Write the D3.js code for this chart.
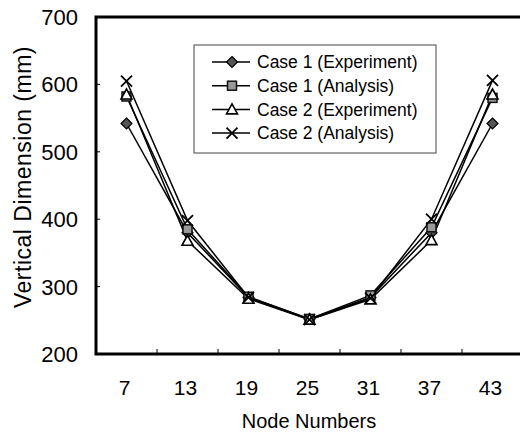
<!DOCTYPE html>
<html>
<head>
<meta charset="utf-8">
<script src="https://cdn.jsdelivr.net/npm/d3@7"></script>
<style>
body { margin: 0; background: #fff; }
svg { font-family: "Liberation Sans", Arial, sans-serif; }
</style>
</head>
<body>
<svg id="chart" width="520" height="434"></svg>
<script>
// node numbers along the cable
var nodes = [7, 13, 19, 25, 31, 37, 43];
var yTicks = [200, 300, 400, 500, 600, 700];
var seriesNames = ["Case 1 (Experiment)", "Case 1 (Analysis)", "Case 2 (Experiment)", "Case 2 (Analysis)"];
var case1Exp = [542, 380, 284, 252, 284, 380, 542];
var case1Ana = [582, 385, 285, 252, 287, 388, 580];
var case2Exp = [585, 368, 282, 251, 281, 369, 585];
var case2Ana = [605, 398, 284, 251, 283, 400, 606];
var seriesValues = [case1Exp, case1Ana, case2Exp, case2Ana];
var markers = ["diamond", "square", "triangle", "cross"];

var svg = d3.select("#chart");
var margin = {left: 96, top: 17, right: -3, bottom: 80};
var width = 520 - margin.left - margin.right,
    height = 434 - margin.top - margin.bottom;

var x = d3.scalePoint().domain(nodes).range([margin.left, margin.left + width]).padding(0.5);
var y = d3.scaleLinear().domain([200, 700]).range([margin.top + height, margin.top]);

// frame
svg.append("rect")
    .attr("x", margin.left).attr("y", margin.top)
    .attr("width", width).attr("height", height)
    .attr("fill", "none").attr("stroke", "#000").attr("stroke-width", 3);

// y axis ticks (inward) and labels
var yAxis = svg.append("g").attr("transform", "translate(" + margin.left + ",0)");
yAxis.selectAll("line").data(yTicks.slice(1, -1)).enter().append("line")
    .attr("x1", 0).attr("x2", 4)
    .attr("y1", function(d) { return y(d); }).attr("y2", function(d) { return y(d); })
    .attr("stroke", "#000").attr("stroke-width", 1);
yAxis.selectAll("text").data(yTicks).enter().append("text")
    .attr("x", -18).attr("y", function(d) { return y(d); })
    .attr("dy", "0.36em")
    .attr("text-anchor", "end")
    .style("font-size", "22px")
    .text(function(d) { return d; });

// x axis: ticks between categories, labels under points
var step = x.step();
var xAxis = svg.append("g");
xAxis.selectAll("line").data(nodes.slice(0, -1)).enter().append("line")
    .attr("x1", function(d) { return x(d) + step / 2; })
    .attr("x2", function(d) { return x(d) + step / 2; })
    .attr("y1", margin.top + height).attr("y2", margin.top + height - 5)
    .attr("stroke", "#000").attr("stroke-width", 1);
xAxis.selectAll("text").data(nodes).enter().append("text")
    .attr("x", function(d) { return x(d) - 2; })
    .attr("y", 395)
    .attr("text-anchor", "middle")
    .style("font-size", "21px")
    .text(function(d) { return d; });

// axis titles
svg.append("text")
    .attr("x", 309).attr("y", 428)
    .attr("text-anchor", "middle")
    .style("font-size", "20px")
    .text("Node Numbers");
svg.append("text")
    .attr("transform", "translate(31,177) rotate(-90)")
    .attr("text-anchor", "middle")
    .style("font-size", "23px")
    .style("letter-spacing", "0.5px")
    .text("Vertical Dimension (mm)");

function drawMarker(g, type, cx, cy) {
    if (type == "diamond") {
        g.append("path")
            .attr("d", "M" + cx + "," + (cy - 5.5) + "L" + (cx + 5.5) + "," + cy + "L" + cx + "," + (cy + 5.5) + "L" + (cx - 5.5) + "," + cy + "Z")
            .attr("fill", "#555").attr("stroke", "#000").attr("stroke-width", 1.2);
    } else if (type == "square") {
        g.append("rect")
            .attr("x", cx - 4.5).attr("y", cy - 4.5).attr("width", 9).attr("height", 9)
            .attr("fill", "#999").attr("stroke", "#111").attr("stroke-width", 1.5);
    } else if (type == "triangle") {
        g.append("path")
            .attr("d", "M" + cx + "," + (cy - 5.5) + "L" + (cx + 5.5) + "," + (cy + 4.5) + "L" + (cx - 5.5) + "," + (cy + 4.5) + "Z")
            .attr("fill", "#fff").attr("stroke", "#000").attr("stroke-width", 1.6);
    } else {
        g.append("path")
            .attr("d", "M" + (cx - 5.5) + "," + (cy - 5.5) + "L" + (cx + 5.5) + "," + (cy + 5.5) + "M" + (cx + 5.5) + "," + (cy - 5.5) + "L" + (cx - 5.5) + "," + (cy + 5.5))
            .attr("fill", "none").attr("stroke", "#000").attr("stroke-width", 1.8);
    }
}

// lines
var line = d3.line()
    .x(function(d, i) { return x(nodes[i]); })
    .y(function(d) { return y(d); });
var plot = svg.append("g");
seriesValues.forEach(function(vals) {
    plot.append("path").datum(vals)
        .attr("d", line)
        .attr("fill", "none").attr("stroke", "#000").attr("stroke-width", 1.5);
});
seriesValues.forEach(function(vals, s) {
    vals.forEach(function(v, i) {
        drawMarker(plot, markers[s], x(nodes[i]), y(v));
    });
});

// legend
var legend = svg.append("g");
legend.append("rect")
    .attr("x", 194).attr("y", 45).attr("width", 242).attr("height", 108)
    .attr("fill", "#fff").attr("stroke", "#444").attr("stroke-width", 1);
seriesNames.forEach(function(name, s) {
    var ly = 62 + s * 23.7;
    legend.append("line")
        .attr("x1", 212).attr("x2", 250).attr("y1", ly).attr("y2", ly)
        .attr("stroke", "#000").attr("stroke-width", 1.5);
    drawMarker(legend, markers[s], 232, ly);
    legend.append("text")
        .attr("x", 257).attr("y", ly).attr("dy", "0.36em")
        .style("font-size", "17.5px")
        .text(name);
});
</script>
</body>
</html>
